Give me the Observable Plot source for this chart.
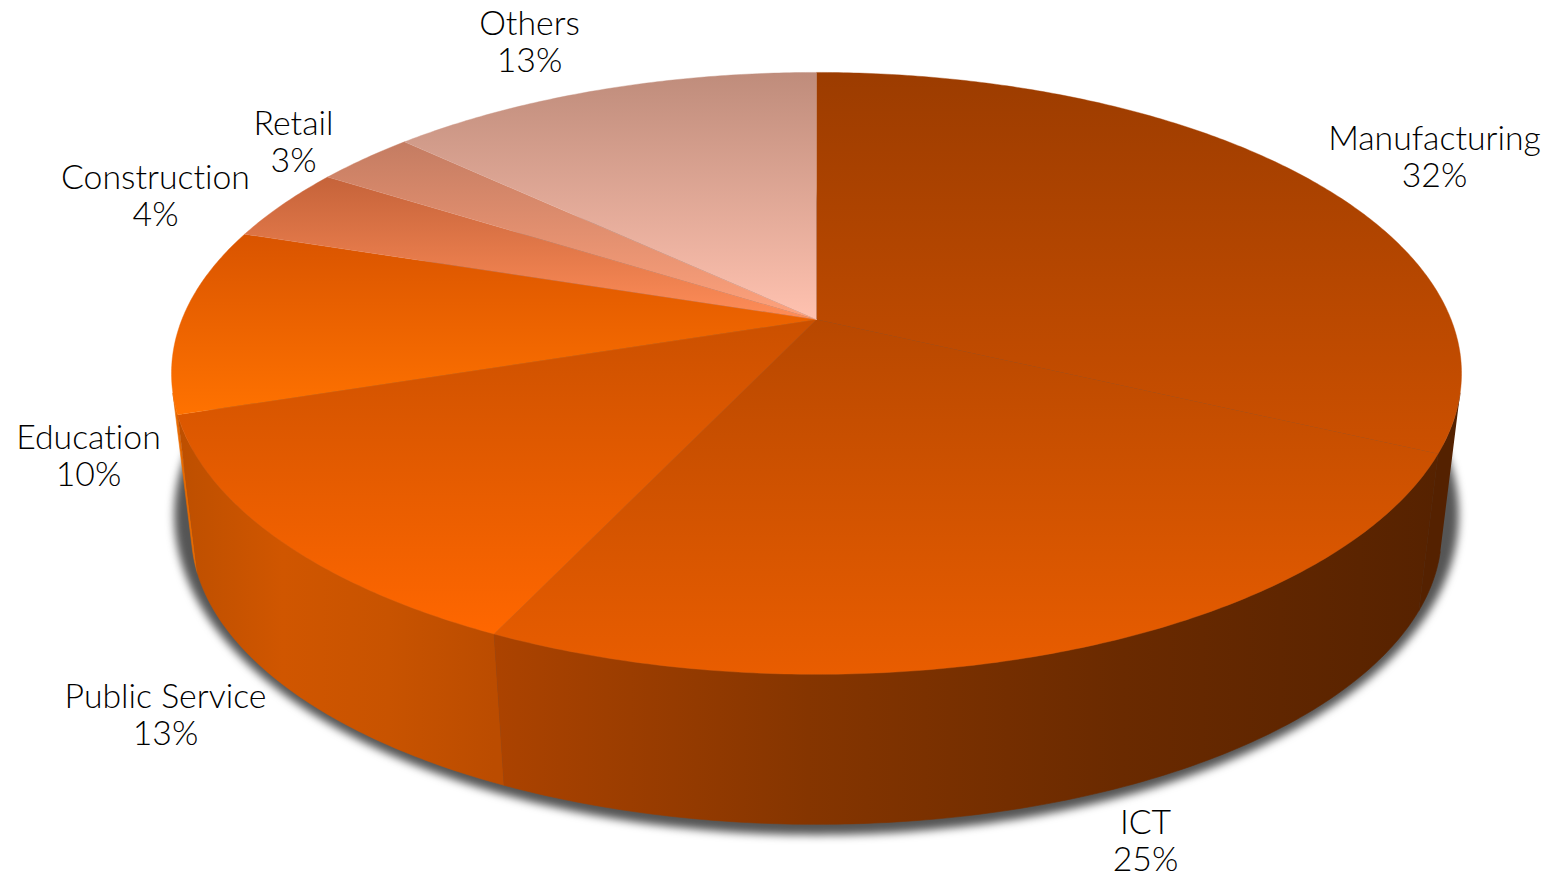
<!DOCTYPE html>
<html>
<head>
<meta charset="utf-8">
<script src="https://cdn.jsdelivr.net/npm/d3@7"></script>
<script src="https://cdn.jsdelivr.net/npm/@observablehq/plot@0.6"></script>
<style>
  html, body { margin: 0; background: #fff; overflow: hidden; }
  svg { display: block; }
  svg text { font-variant-ligatures: none; }
</style>
</head>
<body>
<div id="chart"></div>
<script>
// Share of respondents by sector, in percent, clockwise from twelve o'clock.
const sectors = ["Manufacturing", "ICT", "Public Service", "Education", "Construction", "Retail", "Others"];
const shares = [32, 25, 13, 10, 4, 3, 13];

// Top-face colour ramps (far edge to near edge) and wall colour ramps (left to right).
const topRamps = [
  ["#9c3c00", "#cc5000"],
  ["#b84800", "#e95d00"],
  ["#cb5000", "#ff6700"],
  ["#d95400", "#ff7200"],
  ["#c5633a", "#ff8d58"],
  ["#c47c62", "#ffa27c"],
  ["#bf8c7b", "#ffc2b0"]
];
const wallRamps = [
  ["#542100", "#542100"],
  ["#ac4300", "#853500", "#6a2a00", "#562200"],
  ["#bd4f00", "#d05600", "#c85300", "#bb4c00"],
  ["#e86a00", "#e86a00"]
];

// Perspective disc: the apex is the projected centre of a tilted circle.
const disc = {cx: 816, cy: 319, a: 634.6, b: 291.3, k: 0.179};
const base = {cx: 816, cy: 480, a: 615, b: 282.3, k: 0.179};
const shadow = {cx: 816, cy: 459, a: 622, b: 300, k: 0.179};
// The walls are only seen between the two tangents joining top and base.
const wallVisible = [(104 / 180) * Math.PI, (256 / 180) * Math.PI];

const project = (d, t) => {
  const w = 1 + d.k * Math.cos(t);
  return [d.cx + d.a * Math.sin(t) / w, d.cy - d.b * Math.cos(t) / w];
};

const total = d3.sum(shares);
const cumulative = d3.cumsum(shares);
const angle = (share) => (share / total) * 2 * Math.PI;
const slices = sectors.map((sector, i) => ({
  sector,
  share: shares[i],
  t0: angle(cumulative[i] - shares[i]),
  t1: angle(cumulative[i])
}));

const arc = (d, t0, t1) => {
  const steps = Math.max(2, Math.ceil((t1 - t0) / 0.01));
  return d3.range(steps + 1).map((j) => project(d, t0 + ((t1 - t0) * j) / steps));
};
const toPoints = (pairs) => pairs.map(([x, y]) => ({x, y}));

const topPolygon = (s) => toPoints([[disc.cx, disc.cy], ...arc(disc, s.t0, s.t1)]);
const wallPolygon = (s) => {
  const t0 = Math.max(s.t0, wallVisible[0]);
  const t1 = Math.min(s.t1, wallVisible[1]);
  return toPoints([...arc(disc, t0, t1), ...arc(base, t0, t1).reverse()]);
};
const shadowPolygon = toPoints(arc(shadow, 0, 2 * Math.PI));

// Gradients live in the plot's coordinate system, so they are built from its scales.
const gradients = (index, {x, y}) => {
  const defs = d3.create("svg:defs");
  const add = (id, colors, x1, y1, x2, y2) => {
    const g = defs.append("linearGradient").attr("id", id)
      .attr("gradientUnits", "userSpaceOnUse")
      .attr("x1", x(x1)).attr("y1", y(y1)).attr("x2", x(x2)).attr("y2", y(y2));
    colors.forEach((c, i) => g.append("stop").attr("offset", i / (colors.length - 1)).attr("stop-color", c));
  };
  slices.forEach((s, i) => {
    const pts = topPolygon(s);
    add(`top-${i}`, topRamps[i], disc.cx, d3.min(pts, (p) => p.y), disc.cx, d3.max(pts, (p) => p.y));
  });
  slices.slice(0, wallRamps.length).forEach((s, i) => {
    const pts = arc(disc, s.t0, s.t1);
    add(`wall-${i}`, wallRamps[i], d3.min(pts, (p) => p[0]), 0, d3.max(pts, (p) => p[0]), 0);
  });
  return defs.node();
};

// Label centres for each sector, in chart units.
const labelPlacement = {
  "Manufacturing": [1434, 156],
  "ICT": [1145, 840],
  "Public Service": [165, 714],
  "Education": [88, 455],
  "Construction": [155, 195],
  "Retail": [293, 141],
  "Others": [529, 41]
};

const chart = Plot.plot({
  width: 1547,
  height: 879,
  margin: 0,
  x: {domain: [0, 1547], range: [0, 1547], axis: null},
  y: {domain: [0, 879], range: [0, 879], axis: null},
  marks: [
    gradients,
    // Soft shadow under the disc
    Plot.line(shadowPolygon, {x: "x", y: "y", fill: "#555", stroke: "#555", strokeWidth: 20, imageFilter: "blur(4px)"}),
    // Side walls, then the top face over them
    ...[3, 2, 1, 0].map((i) =>
      Plot.line(wallPolygon(slices[i]), {x: "x", y: "y", fill: `url(#wall-${i})`, stroke: `url(#wall-${i})`, strokeWidth: 0.6})
    ),
    ...slices.map((s, i) =>
      Plot.line(topPolygon(s), {x: "x", y: "y", fill: `url(#top-${i})`, stroke: `url(#top-${i})`, strokeWidth: 0.4})
    ),
    // Sector name and share
    Plot.text(slices, {
      x: (d) => labelPlacement[d.sector][0],
      y: (d) => labelPlacement[d.sector][1],
      text: (d) => `${d.sector}\n${d.share}%`,
      fontFamily: "Lato",
      fontSize: 33.8,
      fontWeight: 300,
      lineHeight: 1.1,
      fill: "#000"
    })
  ]
});
document.getElementById("chart").append(chart);
</script>
</body>
</html>
